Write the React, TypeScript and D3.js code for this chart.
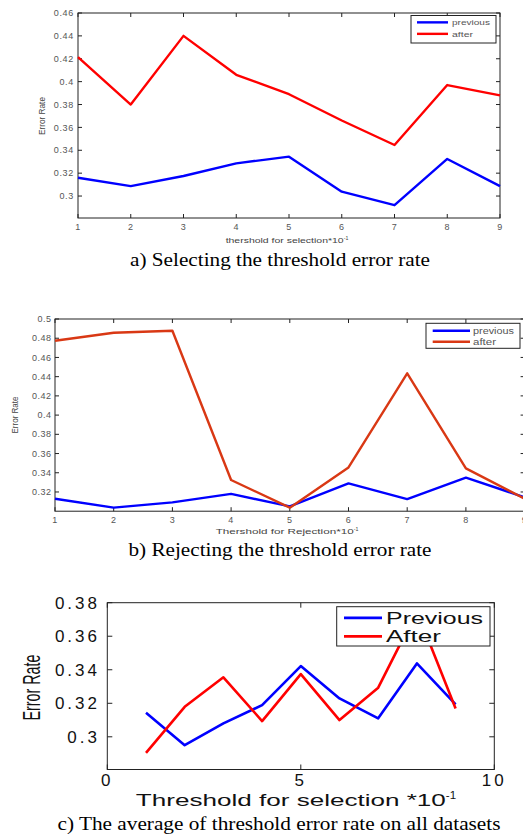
import React, { useEffect, useRef } from "react";
import * as d3 from "d3";

const thresholds = [1, 2, 3, 4, 5, 6, 7, 8, 9];

// a) selecting
const selPrevious = [0.316, 0.3087, 0.3175, 0.3286, 0.3344, 0.3038, 0.292, 0.3324, 0.3087];
const selAfter = [0.4215, 0.38, 0.44, 0.406, 0.389, 0.366, 0.3446, 0.397, 0.388];
const selYTicks = [0.3, 0.32, 0.34, 0.36, 0.38, 0.4, 0.42, 0.44, 0.46];

// b) rejecting
const rejPrevious = [0.313, 0.3037, 0.3092, 0.318, 0.305, 0.329, 0.3126, 0.3349, 0.3145];
const rejAfter = [0.4774, 0.4857, 0.4878, 0.3325, 0.3037, 0.3455, 0.4435, 0.3445, 0.313];
const rejYTicks = [0.32, 0.34, 0.36, 0.38, 0.4, 0.42, 0.44, 0.46, 0.48, 0.5];

// c) average on all datasets
const avgPrevious = [0.3143, 0.295, 0.308, 0.3189, 0.3422, 0.3229, 0.311, 0.3438, 0.3193];
const avgAfter = [0.2904, 0.3179, 0.3355, 0.3094, 0.3374, 0.31, 0.3293, 0.375, 0.3169];
const avgYTicks = [0.3, 0.32, 0.34, 0.36, 0.38];
const avgXTicks = [0, 5, 10];

const panels = [
  {
    left: 78, right: 500, top: 13, bottom: 218,
    xDomain: [1, 9], yDomain: [0.2808, 0.46],
    xTicks: thresholds, yTicks: selYTicks,
    prev: selPrevious, after: selAfter,
    prevColor: "#0000ff", afterColor: "#ff0000", lw: 2.4,
    font: "Liberation Sans", tickSize: 9, tickColor: "#555", tickSpacing: 0.7, tickLen: 4,
    xLabelY: 230, yLabelX: 74,
    legend: { x0: 411, x1: 496, y0: 15.5, y1: 43, lx0: 417, lx1: 448, tx: 452, ty: [25, 36.5], size: 8, spacing: 0.6, names: ["previous", "after"], color: "#555", lens: [38, 21] },
    xTitle: { text: "thershold for selection*10", sup: "-1", x: 287, y: 243, size: 7.5, len: 118, color: "#444" },
    yTitle: { text: "Error Rate", x: 45, y: 116, size: 8.5, len: 38, color: "#444" },
    caption: { text: "a) Selecting the threshold error rate", x: 280, y: 266, len: 300 },
  },
  {
    left: 55, right: 524.6, top: 319, bottom: 511.2,
    xDomain: [1, 9], yDomain: [0.3, 0.5],
    xTicks: thresholds, yTicks: rejYTicks,
    prev: rejPrevious, after: rejAfter,
    prevColor: "#0000ff", afterColor: "#d93814", lw: 2.4,
    font: "Liberation Sans", tickSize: 9, tickColor: "#555", tickSpacing: 0.5, tickLen: 4,
    xLabelY: 522.5, yLabelX: 51.5,
    legend: { x0: 426, x1: 520, y0: 323.3, y1: 348.3, lx0: 432.7, lx1: 470, tx: 473, ty: [333.5, 344.5], size: 8.5, spacing: 0.6, names: ["previous", "after"], color: "#555", lens: [41, 23] },
    xTitle: { text: "Thershold for Rejection*10", sup: "-1", x: 287, y: 534, size: 7.5, len: 138, color: "#444" },
    yTitle: { text: "Error Rate", x: 18, y: 415, size: 8.5, len: 37, color: "#444" },
    caption: { text: "b) Rejecting the threshold error rate", x: 280, y: 556, len: 303 },
  },
  {
    left: 107.3, right: 494.3, top: 602.7, bottom: 769.5,
    xDomain: [0, 10], yDomain: [0.2805, 0.38],
    xTicks: avgXTicks, yTicks: avgYTicks,
    prev: avgPrevious, after: avgAfter,
    prevColor: "#0000ff", afterColor: "#ff0000", lw: 2.6,
    font: "Liberation Sans", tickSize: 17, tickColor: "#111", tickSpacing: 3, tickLen: 5,
    xLabelY: 786, yLabelX: 100,
    legend: { x0: 336.7, x1: 490, y0: 606.7, y1: 646, lx0: 344, lx1: 382, tx: 386, ty: [623.5, 642], size: 17, spacing: 2, names: ["Previous", "After"], color: "#111", lens: [97, 55] },
    xTitle: { text: "Threshold for selection *10", sup: "-1", x: 296, y: 806, size: 16.5, len: 310, color: "#111" },
    yTitle: { text: "Error Rate", x: 40, y: 687.5, size: 24, len: 66, color: "#111" },
    caption: { text: "c) The average of threshold error rate on all datasets", x: 279, y: 830, len: 443 },
  },
];

function drawPanel(g: any, p: any) {
  const x = d3.scaleLinear().domain(p.xDomain).range([p.left, p.right]);
  const y = d3.scaleLinear().domain(p.yDomain).range([p.bottom, p.top]);
  const axisColor = "#222";

  g.append("rect")
    .attr("x", p.left).attr("y", p.top)
    .attr("width", p.right - p.left).attr("height", p.bottom - p.top)
    .attr("fill", "#fff").attr("stroke", axisColor).attr("stroke-width", 1);

  p.xTicks.forEach((t: number) => {
    const xx = x(t);
    g.append("line").attr("x1", xx).attr("x2", xx).attr("y1", p.bottom).attr("y2", p.bottom - p.tickLen).attr("stroke", axisColor);
    g.append("line").attr("x1", xx).attr("x2", xx).attr("y1", p.top).attr("y2", p.top + p.tickLen).attr("stroke", axisColor);
    g.append("text")
      .attr("x", xx).attr("y", p.xLabelY)
      .attr("text-anchor", "middle")
      .attr("font-family", p.font).attr("font-size", p.tickSize)
      .attr("letter-spacing", p.tickSpacing)
      .attr("fill", p.tickColor)
      .text(String(t));
  });

  p.yTicks.forEach((t: number) => {
    const yy = y(t);
    g.append("line").attr("x1", p.left).attr("x2", p.left + p.tickLen).attr("y1", yy).attr("y2", yy).attr("stroke", axisColor);
    g.append("line").attr("x1", p.right).attr("x2", p.right - p.tickLen).attr("y1", yy).attr("y2", yy).attr("stroke", axisColor);
    g.append("text")
      .attr("x", p.yLabelX).attr("y", yy)
      .attr("dy", "0.35em")
      .attr("text-anchor", "end")
      .attr("font-family", p.font).attr("font-size", p.tickSize)
      .attr("letter-spacing", p.tickSpacing)
      .attr("fill", p.tickColor)
      .text(d3.format("~g")(t));
  });

  const line = d3.line<number>()
    .x((_d, i) => x(thresholds[i]))
    .y((d) => y(d));

  g.append("path").datum(p.prev)
    .attr("fill", "none").attr("stroke", p.prevColor).attr("stroke-width", p.lw)
    .attr("stroke-linejoin", "round")
    .attr("d", line);
  g.append("path").datum(p.after)
    .attr("fill", "none").attr("stroke", p.afterColor).attr("stroke-width", p.lw)
    .attr("stroke-linejoin", "round")
    .attr("d", line);

  // legend
  const L = p.legend;
  g.append("rect")
    .attr("x", L.x0).attr("y", L.y0)
    .attr("width", L.x1 - L.x0).attr("height", L.y1 - L.y0)
    .attr("fill", "#fff").attr("stroke", axisColor).attr("stroke-width", 1);
  [p.prevColor, p.afterColor].forEach((c: string, i: number) => {
    const ly = L.ty[i] - L.size * 0.33;
    g.append("line").attr("x1", L.lx0).attr("x2", L.lx1).attr("y1", ly).attr("y2", ly)
      .attr("stroke", c).attr("stroke-width", p.lw);
    g.append("text")
      .attr("x", L.tx).attr("y", L.ty[i])
      .attr("font-family", p.font).attr("font-size", L.size)
      .attr("textLength", L.lens[i]).attr("lengthAdjust", "spacingAndGlyphs")
      .attr("fill", L.color)
      .text(L.names[i]);
  });

  // x title with superscript
  const xt = g.append("text")
    .attr("x", p.xTitle.x).attr("y", p.xTitle.y)
    .attr("text-anchor", "middle")
    .attr("font-family", p.font).attr("font-size", p.xTitle.size)
    .attr("fill", p.xTitle.color);
  xt.append("tspan")
    .attr("textLength", p.xTitle.len).attr("lengthAdjust", "spacingAndGlyphs")
    .text(p.xTitle.text);
  xt.append("tspan")
    .attr("font-size", p.xTitle.size * 0.7)
    .attr("dy", -p.xTitle.size * 0.4)
    .text(p.xTitle.sup);

  g.append("text")
    .attr("transform", `translate(${p.yTitle.x},${p.yTitle.y}) rotate(-90)`)
    .attr("text-anchor", "middle")
    .attr("font-family", p.font).attr("font-size", p.yTitle.size)
    .attr("textLength", p.yTitle.len).attr("lengthAdjust", "spacingAndGlyphs")
    .attr("fill", p.yTitle.color)
    .text(p.yTitle.text);

  g.append("text")
    .attr("x", p.caption.x).attr("y", p.caption.y)
    .attr("text-anchor", "middle")
    .attr("font-family", "Liberation Serif").attr("font-size", 18)
    .attr("textLength", p.caption.len).attr("lengthAdjust", "spacingAndGlyphs")
    .attr("fill", "#000")
    .text(p.caption.text);
}

export default function App() {
  const svgRef = useRef<SVGSVGElement>(null);

  useEffect(() => {
    const svg = d3.select(svgRef.current);
    svg.selectAll("*").remove();
    svg.append("rect").attr("width", 523).attr("height", 834).attr("fill", "#fff");
    panels.forEach((p) => drawPanel(svg.append("g"), p));
  }, []);

  return (
    <svg
      ref={svgRef}
      width={523}
      height={834}
      style={{ position: "absolute", left: 0, top: 0, display: "block" }}
    />
  );
}
